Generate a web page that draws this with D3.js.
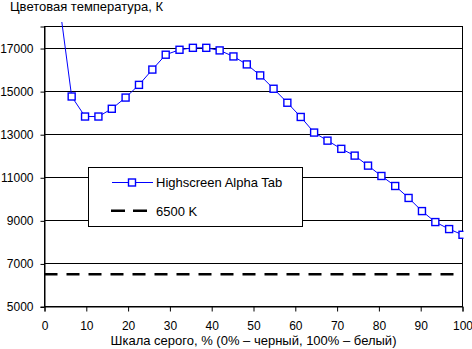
<!DOCTYPE html>
<html><head><meta charset="utf-8">
<script src="https://cdn.jsdelivr.net/npm/d3@7"></script>
<style>
html,body{margin:0;padding:0;background:#fff;}
svg{display:block;font-family:"Liberation Sans",Arial,sans-serif;font-size:13px;}
</style></head>
<body><svg id="c" width="472" height="349"></svg>
<script>
const grayLevels = [3.2, 6.5, 9.7, 12.9, 16.1, 19.4, 22.6, 25.8, 29.0, 32.3, 35.5, 38.7, 41.9, 45.2, 48.4, 51.6, 54.8, 58.1, 61.3, 64.5, 67.7, 71.0, 74.2, 77.4, 80.6, 83.9, 87.1, 90.3, 93.5, 96.8, 100];
const tempValues = [19600, 14750, 13820, 13820, 14180, 14700, 15290, 16000, 16690, 16920, 17010, 17010, 16890, 16610, 16240, 15730, 15110, 14460, 13800, 13075, 12700, 12320, 12005, 11540, 11060, 10595, 10040, 9430, 8920, 8595, 8330];
const referenceTemp = 6500;
const yTicks = [5000, 7000, 9000, 11000, 13000, 15000, 17000];
const xTicks = [0, 10, 20, 30, 40, 50, 60, 70, 80, 90, 100];
const seriesName = "Highscreen Alpha Tab";
const refName = "6500 K";
const yTitle = "Цветовая температура, К";
const xTitle = "Шкала серого, % (0% – черный, 100% – белый)";

const svg = d3.select("#c");
const L = 44.5, R = 462.5, T = 26.5, B = 306.5;
const x = d3.scaleLinear().domain([0, 100]).range([L, R]);
const y = d3.scaleLinear().domain([5000, 18000]).range([B, T]);

// gridlines
svg.append("g").selectAll("line").data(yTicks.filter(v => v > 5000)).join("line")
  .attr("x1", L).attr("x2", R).attr("y1", d => Math.round(y(d)) + 0.5).attr("y2", d => Math.round(y(d)) + 0.5)
  .attr("stroke", "#000").attr("stroke-width", 1);

// plot border
svg.append("rect").attr("x", L).attr("y", T).attr("width", R - L).attr("height", B - T)
  .attr("fill", "none").attr("stroke", "#000").attr("stroke-width", 1);

// axes
const yAxis = d3.axisLeft(y).tickValues(yTicks).tickSize(4).tickPadding(7).tickFormat(d3.format("d"));
const gy = svg.append("g").attr("transform", `translate(${L},0)`).call(yAxis);
const xAxis = d3.axisBottom(x).tickValues(xTicks).tickSize(5).tickPadding(10).tickFormat(d3.format("d"));
const gx = svg.append("g").attr("transform", `translate(0,${B})`).call(xAxis);
[gy, gx].forEach(g => {
  g.select(".domain").attr("stroke", "#000");
  g.selectAll(".tick line").attr("stroke", "#000");
  g.selectAll("text").attr("fill", "#000").style("font-size", "12px").style("font-family", "'Liberation Sans',Arial,sans-serif");
});
gy.selectAll(".tick line").attr("transform", "translate(0,0.5)");
gy.selectAll(".tick text").attr("dy", "0.36em");

// reference dashed line
svg.append("line").attr("x1", L).attr("x2", R)
  .attr("y1", y(referenceTemp)).attr("y2", y(referenceTemp))
  .attr("stroke", "#000").attr("stroke-width", 2.4).attr("stroke-dasharray", "13,9");

// clip
svg.append("clipPath").attr("id", "clip").append("rect")
  .attr("x", L - 1).attr("y", 22).attr("width", R - L + 2).attr("height", B - 22 + 1);

const data = grayLevels.map((g, i) => ({ g, v: tempValues[i] }));
const line = d3.line().x(d => x(d.g)).y(d => y(d.v));
const sg = svg.append("g").attr("clip-path", "url(#clip)");
sg.append("path").datum(data).attr("d", line).attr("fill", "none").attr("stroke", "#0000ff").attr("stroke-width", 1);
const ms = 7;
sg.selectAll("rect.m").data(data).join("rect").attr("class", "m")
  .attr("x", d => x(d.g) - ms / 2).attr("y", d => y(d.v) - ms / 2)
  .attr("width", ms).attr("height", ms)
  .attr("fill", "#fff").attr("stroke", "#0000ff").attr("stroke-width", 1.4);

// legend
const lg = svg.append("g");
lg.append("rect").attr("x", 88.5).attr("y", 167.5).attr("width", 214).attr("height", 59)
  .attr("fill", "#fff").attr("stroke", "#000").attr("stroke-width", 1);
lg.append("line").attr("x1", 112).attr("x2", 153).attr("y1", 182.5).attr("y2", 182.5)
  .attr("stroke", "#0000ff").attr("stroke-width", 1);
lg.append("rect").attr("x", 132 - ms / 2).attr("y", 182.5 - ms / 2).attr("width", ms).attr("height", ms)
  .attr("fill", "#fff").attr("stroke", "#0000ff").attr("stroke-width", 1.4);
lg.append("text").attr("x", 156).attr("y", 187).text(seriesName);
lg.append("line").attr("x1", 111).attr("x2", 147).attr("y1", 210.7).attr("y2", 210.7)
  .attr("stroke", "#000").attr("stroke-width", 2.4).attr("stroke-dasharray", "14,8");
lg.append("text").attr("x", 156).attr("y", 215.5).text(refName);

// titles
svg.append("text").attr("x", 10).attr("y", 11).text(yTitle);
svg.append("text").attr("x", (L + R) / 2).attr("y", 345).attr("text-anchor", "middle").text(xTitle);
</script></body></html>
